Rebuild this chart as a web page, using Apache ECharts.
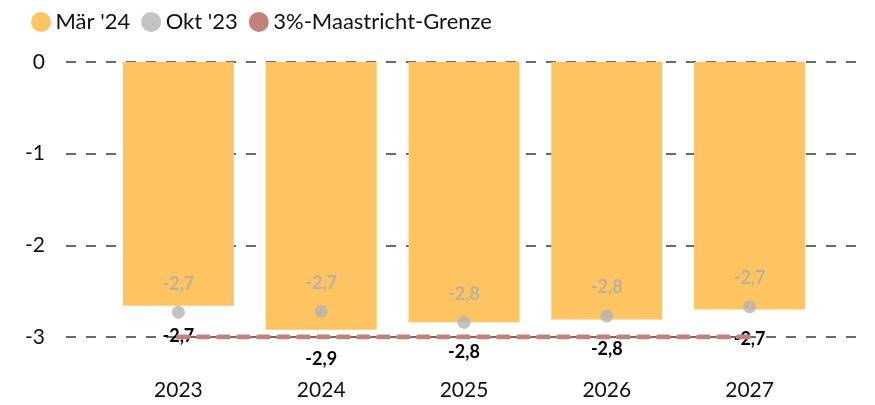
<!DOCTYPE html>
<meta charset="utf-8">
<title>Defizit</title>
<style>
  html, body { margin: 0; padding: 0; background: #fff; }
  #main { width: 875px; height: 405px; }
</style>
<body>
<div id="main"></div>
<script src="https://cdn.jsdelivr.net/npm/echarts@6/dist/echarts.min.js"></script>
<script>
  // Daten
  var years = ['2023', '2024', '2025', '2026', '2027'];
  var maer24 = [-2.66, -2.92, -2.84, -2.81, -2.70];
  var okt23 = [-2.73, -2.72, -2.84, -2.77, -2.67];
  var maastricht = [-3, -3, -3, -3, -3];
  var yTicks = [0, -1, -2, -3];

  var font = 'Lato, "Liberation Sans", sans-serif';
  var fmt = function (p) { return p.value.toFixed(1).replace('.', ','); };

  var myChart = echarts.init(document.getElementById('main'));
  var option = {
    animation: false,
    textStyle: { fontFamily: font },
    legend: {
      left: 26, top: 6,
      icon: 'circle',
      itemWidth: 21, itemHeight: 20, itemGap: 11,
      textStyle: { fontSize: 22, color: '#111', fontFamily: font, padding: [0, 0, 0, -1] },
      data: ["Mär '24", "Okt '23", '3%-Maastricht-Grenze']
    },
    grid: [
      { left: 66, right: 19, top: 62, bottom: 68 },
      { left: 107, right: 54, top: 62, bottom: 68 }
    ],
    xAxis: [
      { gridIndex: 0, type: 'category', data: years, show: false },
      {
        gridIndex: 1, type: 'category', data: years,
        axisLine: { show: false }, axisTick: { show: false },
        axisLabel: { fontSize: 21, color: '#111', margin: 43, fontFamily: font }
      }
    ],
    yAxis: [
      {
        gridIndex: 0, type: 'value', min: -3, max: 0, interval: 1,
        axisLine: { show: false }, axisTick: { show: false },
        axisLabel: {
          fontSize: 21, color: '#111', margin: 21, fontFamily: font,
          customValues: yTicks
        },
        splitLine: { lineStyle: { color: '#6b6b6b', width: 2, type: [10, 10] } }
      },
      { gridIndex: 1, type: 'value', min: -3, max: 0, show: false }
    ],
    series: [
      {
        name: "Mär '24", type: 'bar', xAxisIndex: 1, yAxisIndex: 1,
        data: maer24, barWidth: 111,
        itemStyle: { color: '#FFC462' },
        label: {
          show: true, position: 'bottom', distance: 21,
          formatter: fmt, fontSize: 18, fontWeight: 'bold', color: '#000', fontFamily: font
        },
        z: 2
      },
      {
        name: '3%-Maastricht-Grenze', type: 'line', xAxisIndex: 1, yAxisIndex: 1,
        data: maastricht, symbol: 'none',
        lineStyle: { color: '#C0837A', width: 5, type: [10, 10], cap: 'round' },
        itemStyle: { color: '#C0837A' },
        z: 3
      },
      {
        name: "Okt '23", type: 'scatter', xAxisIndex: 1, yAxisIndex: 1,
        data: okt23, symbolSize: 13,
        itemStyle: { color: '#B4B4B4' },
        label: {
          show: true, position: 'top', distance: 13,
          formatter: fmt, fontSize: 18, fontWeight: 'bold', color: '#ABABAB', fontFamily: font
        },
        z: 4
      }
    ]
  };
  myChart.setOption(option);
</script>
</body>
